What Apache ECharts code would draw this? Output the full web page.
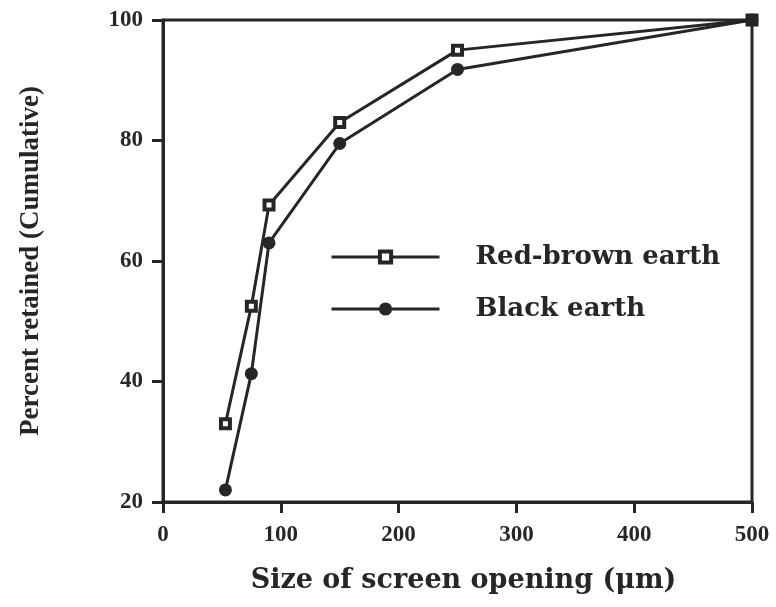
<!DOCTYPE html>
<html>
<head>
<meta charset="utf-8">
<script src="https://cdn.jsdelivr.net/npm/echarts@6/dist/echarts.min.js"></script>
<style>
html,body{margin:0;padding:0;background:#fff;}
#c{width:776px;height:607px;}
</style>
</head>
<body>
<div id="c"></div>
<script>
const sizes = [53, 75, 90, 150, 250, 500];
const redBrown = [33, 52.5, 69.3, 83, 95, 100];
const blackEarth = [22, 41.3, 63, 79.5, 91.8, 100];
const xTicks = [0, 100, 200, 300, 400, 500];
const yTicks = [20, 40, 60, 80, 100];
const seriesNames = ['Red-brown earth', 'Black earth'];

const FONT = 'Liberation Serif';
const FONT2 = 'DejaVu Serif';
const INK = '#262626';

const chart = echarts.init(document.getElementById('c'), null, {renderer: 'canvas'});
chart.setOption({
  animation: false,
  backgroundColor: '#fff',
  grid: {left: 163, right: 24, top: 20, bottom: 105, show: true, borderColor: INK, borderWidth: 3, containLabel: false},
  xAxis: {
    type: 'value', min: xTicks[0], max: xTicks[xTicks.length-1], interval: 100,
    name: 'Size of screen opening (\u03bcm)', nameLocation: 'middle', nameGap: 65,
    nameTextStyle: {fontFamily: FONT2, fontWeight: 'bold', fontSize: 27, color: INK, padding: [0, 0, 0, 12]},
    axisLine: {show: true, lineStyle: {color: INK, width: 3}},
    axisTick: {show: true, inside: false, length: 11, lineStyle: {color: INK, width: 3}},
    axisLabel: {margin: 22, fontFamily: FONT, fontWeight: 'bold', fontSize: 23, color: INK},
    splitLine: {show: false}
  },
  yAxis: {
    type: 'value', min: yTicks[0], max: yTicks[yTicks.length-1], interval: 20,
    name: 'Percent retained (Cumulative)', nameLocation: 'middle', nameGap: 118,
    nameTextStyle: {fontFamily: FONT, fontWeight: 'bold', fontSize: 27, color: INK},
    axisLine: {show: true, lineStyle: {color: INK, width: 3}},
    axisTick: {show: true, inside: false, length: 11, lineStyle: {color: INK, width: 3}},
    axisLabel: {margin: 20, fontFamily: FONT, fontWeight: 'bold', fontSize: 23, color: INK},
    splitLine: {show: false}
  },
  legend: {
    orient: 'vertical', left: 325, top: 237,
    itemWidth: 108, itemHeight: 14, itemGap: 22,
    lineStyle: {width: 3, color: INK},
    textStyle: {fontFamily: FONT2, fontWeight: 'bold', fontSize: 26, color: INK, padding: [0, 0, 0, 31], lineHeight: 30},
    data: [
      {name: seriesNames[0], itemStyle: {color: '#fff', borderColor: INK, borderWidth: 4}},
      {name: seriesNames[1], itemStyle: {color: INK, borderColor: INK, borderWidth: 2}}
    ]
  },
  series: [
    {
      name: seriesNames[0], type: 'line',
      data: sizes.map((s, i) => [s, redBrown[i]]),
      symbol: 'rect', symbolSize: 9,
      lineStyle: {color: INK, width: 3},
      itemStyle: {color: '#fff', borderColor: INK, borderWidth: 4}
    },
    {
      name: seriesNames[1], type: 'line',
      data: sizes.map((s, i) => [s, blackEarth[i]]),
      symbol: 'circle', symbolSize: 13,
      lineStyle: {color: INK, width: 3},
      itemStyle: {color: INK, borderColor: INK, borderWidth: 0}
    }
  ]
});
</script>
</body>
</html>
